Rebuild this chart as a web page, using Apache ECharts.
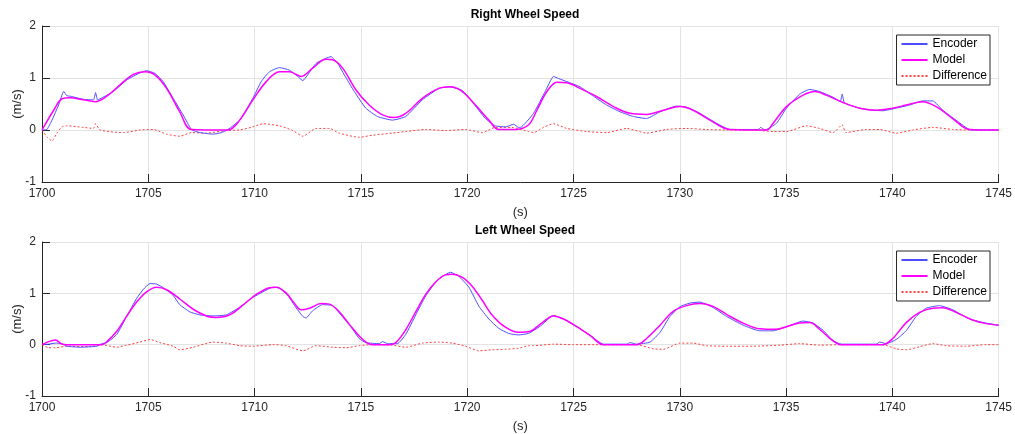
<!DOCTYPE html>
<html>
<head>
<meta charset="utf-8">
<script src="https://cdn.jsdelivr.net/npm/echarts@6/dist/echarts.min.js"></script>
<style>
  html, body { margin: 0; padding: 0; background: #fff; }
  #chart { width: 1015px; height: 434px; }
</style>
</head>
<body>
<div id="chart"></div>
<script>
// axis ticks
const xTicks = [1700, 1705, 1710, 1715, 1720, 1725, 1730, 1735, 1740, 1745]
const yTicks = [-1, 0, 1, 2]

// Right wheel: [time (s), speed (m/s)]
const rightEncoder = [
  [1700.00, 0], [1700.23, 0.01], [1700.47, 0.19], [1700.78, 0.48], [1701.02, 0.74], [1701.17, 0.66],
  [1701.33, 0.65], [1701.95, 0.59], [1702.42, 0.58], [1702.52, 0.72], [1702.61, 0.58], [1702.73, 0.60],
  [1703.36, 0.74], [1703.98, 0.96], [1704.61, 1.10], [1704.92, 1.14], [1705.31, 1.09], [1705.70, 0.93],
  [1706.17, 0.61], [1706.64, 0.29], [1707.03, 0.01], [1707.42, -0.05], [1708.05, -0.08], [1708.44, -0.05],
  [1708.75, 0.01], [1709.30, 0.19], [1709.92, 0.61], [1710.31, 0.93], [1710.70, 1.12], [1711.17, 1.20],
  [1711.64, 1.15], [1712.03, 1.03], [1712.27, 0.95], [1712.50, 1.06], [1712.89, 1.28], [1713.36, 1.38],
  [1713.59, 1.41], [1713.91, 1.28], [1714.22, 1.06], [1714.69, 0.74], [1715.23, 0.42], [1715.78, 0.26],
  [1716.48, 0.19], [1717.11, 0.26], [1717.89, 0.58], [1718.67, 0.80], [1719.14, 0.83], [1719.77, 0.76],
  [1720.23, 0.545], [1720.86, 0.22], [1721.33, 0.08], [1721.80, 0.06], [1722.19, 0.11], [1722.42, 0.05],
  [1722.50, 0.05], [1723.12, 0.32], [1723.67, 0.74], [1724.06, 1.03], [1724.30, 0.99], [1724.69, 0.93],
  [1725.31, 0.83], [1725.94, 0.65], [1726.56, 0.48], [1727.19, 0.35], [1727.82, 0.26], [1728.44, 0.22],
  [1729.07, 0.35], [1729.85, 0.46], [1730.32, 0.44], [1730.95, 0.32], [1731.73, 0.13], [1732.36, 0.01],
  [1733.69, 0.01], [1733.80, 0.05], [1734.00, 0.00], [1734.55, 0.13], [1735.02, 0.42], [1735.64, 0.69],
  [1736.11, 0.78], [1736.58, 0.74], [1737.21, 0.63], [1737.55, 0.55], [1737.64, 0.69], [1737.75, 0.52],
  [1738.46, 0.42], [1739.08, 0.38], [1739.55, 0.37], [1740.18, 0.42], [1740.81, 0.48], [1741.43, 0.56],
  [1741.90, 0.56], [1742.37, 0.38], [1742.99, 0.19], [1743.70, 0.00], [1745.00, 0]
]
const rightModel = [
  [1700.00, 0], [1700.55, 0.38], [1700.94, 0.60], [1701.33, 0.62], [1701.95, 0.58], [1702.50, 0.545],
  [1703.05, 0.65], [1703.67, 0.87], [1704.30, 1.07], [1704.84, 1.12], [1705.31, 1.06], [1705.86, 0.80],
  [1706.48, 0.35], [1707.03, 0.01], [1708.75, 0], [1709.30, 0.19], [1709.92, 0.58], [1710.55, 0.93],
  [1711.17, 1.12], [1711.64, 1.12], [1712.19, 1.03], [1712.73, 1.19], [1713.36, 1.36], [1713.67, 1.35],
  [1714.14, 1.19], [1714.77, 0.77], [1715.39, 0.48], [1716.02, 0.29], [1716.56, 0.24], [1717.11, 0.32],
  [1717.89, 0.61], [1718.67, 0.80], [1719.22, 0.83], [1719.77, 0.74], [1720.39, 0.48], [1721.02, 0.19],
  [1721.48, 0.01], [1722.27, 0.01], [1722.89, 0.10], [1723.28, 0.38], [1723.75, 0.74], [1724.22, 0.92],
  [1724.69, 0.91], [1725.31, 0.80], [1726.10, 0.64], [1726.88, 0.45], [1727.66, 0.32], [1728.44, 0.30],
  [1729.23, 0.38], [1730.01, 0.45], [1730.63, 0.38], [1731.42, 0.19], [1732.36, 0.01], [1734.08, 0],
  [1734.39, 0.13], [1735.02, 0.45], [1735.80, 0.67], [1736.35, 0.74], [1736.89, 0.67], [1737.68, 0.53],
  [1738.46, 0.42], [1739.24, 0.38], [1740.02, 0.42], [1740.65, 0.48], [1741.43, 0.545], [1742.06, 0.45],
  [1742.84, 0.22], [1743.62, 0.01], [1745.00, 0]
]
const rightDiff = [
  [1700.00, 0], [1700.23, -0.13], [1700.47, -0.21], [1700.70, -0.06], [1700.94, 0.06], [1701.17, 0.08],
  [1701.95, 0.05], [1702.42, 0.03], [1702.52, 0.12], [1702.73, 0.00], [1703.83, -0.05], [1704.61, 0.00],
  [1705.23, 0.01], [1705.86, -0.08], [1706.48, -0.12], [1707.03, -0.05], [1707.73, -0.06], [1708.67, -0.01],
  [1709.30, 0.00], [1709.92, 0.06], [1710.39, 0.12], [1711.17, 0.08], [1711.80, -0.01], [1712.27, -0.12],
  [1712.89, 0.03], [1713.52, 0.03], [1713.98, -0.06], [1714.92, -0.14], [1715.55, -0.10], [1716.48, -0.06],
  [1717.11, -0.03], [1718.05, 0.01], [1718.98, -0.01], [1719.92, 0.01], [1720.70, -0.05], [1721.33, 0.05],
  [1722.11, 0.05], [1722.89, -0.03], [1723.12, -0.05], [1723.59, 0.05], [1724.06, 0.12], [1724.69, 0.03],
  [1725.63, -0.03], [1726.56, -0.05], [1727.50, 0.03], [1728.44, -0.06], [1729.38, 0.01], [1730.32, 0.03],
  [1731.26, 0.01], [1732.20, 0.00], [1733.45, 0.00], [1734.39, -0.03], [1735.02, -0.03], [1735.96, 0.08],
  [1736.58, 0.03], [1737.21, -0.05], [1737.64, 0.10], [1737.82, -0.05], [1738.77, 0.01], [1739.40, 0.01],
  [1740.18, -0.06], [1740.96, 0.00], [1741.90, 0.05], [1742.84, 0.01], [1743.62, 0.00], [1745.00, 0]
]

// Left wheel: [time (s), speed (m/s)]
const leftEncoder = [
  [1700.00, 0], [1700.31, 0.01], [1700.63, 0.03], [1700.94, 0.02], [1701.17, -0.03], [1701.80, -0.05],
  [1702.27, -0.04], [1702.58, -0.03], [1702.81, 0.02], [1703.05, 0.04], [1703.52, 0.20], [1703.98, 0.55],
  [1704.45, 0.90], [1704.77, 1.08], [1705.08, 1.19], [1705.39, 1.18], [1705.78, 1.09], [1706.17, 0.96],
  [1706.48, 0.78], [1706.95, 0.64], [1707.42, 0.58], [1708.05, 0.56], [1708.67, 0.58], [1709.30, 0.73],
  [1709.92, 0.92], [1710.39, 1.03], [1710.86, 1.12], [1711.17, 1.10], [1711.56, 0.96], [1711.95, 0.72],
  [1712.27, 0.55], [1712.42, 0.52], [1712.73, 0.66], [1713.20, 0.78], [1713.67, 0.76], [1714.06, 0.58],
  [1714.53, 0.35], [1714.92, 0.12], [1715.23, 0.04], [1715.86, 0.02], [1716.02, 0.06], [1716.25, 0.02],
  [1716.72, 0.02], [1717.11, 0.20], [1717.58, 0.58], [1718.05, 0.95], [1718.52, 1.22], [1718.83, 1.33],
  [1719.22, 1.41], [1719.61, 1.33], [1720.08, 1.12], [1720.55, 0.75], [1721.02, 0.50], [1721.48, 0.32],
  [1721.95, 0.22], [1722.42, 0.19], [1722.89, 0.22], [1723.44, 0.36], [1724.06, 0.57], [1724.53, 0.50],
  [1725.16, 0.35], [1725.78, 0.18], [1726.41, 0.01], [1727.50, 0.01], [1727.66, 0.04], [1727.97, 0.01],
  [1728.60, 0.05], [1729.07, 0.24], [1729.54, 0.55], [1730.01, 0.74], [1730.48, 0.81], [1730.95, 0.83],
  [1731.58, 0.72], [1732.20, 0.55], [1732.98, 0.38], [1733.76, 0.27], [1734.39, 0.27], [1735.02, 0.35],
  [1735.80, 0.46], [1736.27, 0.42], [1736.74, 0.28], [1737.21, 0.08], [1737.60, 0.01], [1739.24, 0.01],
  [1739.40, 0.05], [1739.71, 0.02], [1740.18, 0.10], [1740.65, 0.27], [1741.12, 0.55], [1741.59, 0.71],
  [1742.21, 0.76], [1742.84, 0.68], [1743.62, 0.50], [1744.41, 0.42], [1745.00, 0.38]
]
const leftModel = [
  [1700.00, 0], [1700.31, 0.06], [1700.63, 0.09], [1700.94, 0.01], [1701.17, 0], [1702.81, 0],
  [1703.05, 0.06], [1703.52, 0.26], [1703.98, 0.55], [1704.45, 0.83], [1704.92, 1.03], [1705.39, 1.12],
  [1705.86, 1.07], [1706.48, 0.89], [1707.11, 0.69], [1707.73, 0.56], [1708.20, 0.53], [1708.83, 0.58],
  [1709.45, 0.77], [1710.08, 0.98], [1710.70, 1.11], [1711.02, 1.12], [1711.48, 1.01], [1711.88, 0.80],
  [1712.19, 0.68], [1712.58, 0.71], [1713.13, 0.80], [1713.52, 0.79], [1713.98, 0.64], [1714.45, 0.40],
  [1714.92, 0.17], [1715.31, 0.03], [1715.55, 0], [1716.33, 0], [1716.64, 0.04], [1717.11, 0.29],
  [1717.58, 0.64], [1718.05, 0.98], [1718.52, 1.22], [1718.98, 1.36], [1719.30, 1.37], [1719.77, 1.31],
  [1720.23, 1.14], [1720.70, 0.87], [1721.17, 0.58], [1721.80, 0.34], [1722.42, 0.24], [1722.97, 0.26],
  [1723.44, 0.40], [1724.06, 0.56], [1724.53, 0.50], [1725.16, 0.35], [1725.78, 0.18], [1726.41, 0],
  [1727.97, 0], [1728.44, 0.12], [1729.07, 0.38], [1729.69, 0.65], [1730.32, 0.76], [1730.95, 0.80],
  [1731.58, 0.74], [1732.20, 0.59], [1732.98, 0.42], [1733.76, 0.31], [1734.55, 0.30], [1735.02, 0.35],
  [1735.64, 0.42], [1736.11, 0.43], [1736.58, 0.30], [1737.13, 0.10], [1737.60, 0], [1739.55, 0],
  [1740.02, 0.12], [1740.65, 0.43], [1741.28, 0.63], [1741.90, 0.71], [1742.37, 0.72], [1742.99, 0.63],
  [1743.78, 0.48], [1744.41, 0.41], [1745.00, 0.38]
]
const leftDiff = [
  [1700.00, 0], [1700.31, -0.06], [1700.63, -0.06], [1701.17, -0.03], [1702.27, -0.04], [1702.81, 0.00],
  [1703.52, -0.05], [1703.98, -0.01], [1704.61, 0.05], [1705.08, 0.10], [1705.55, 0.04], [1706.17, -0.03],
  [1706.48, -0.10], [1707.11, -0.05], [1708.05, 0.05], [1708.67, 0.03], [1709.30, -0.02], [1709.92, -0.03],
  [1710.86, 0.00], [1711.48, -0.02], [1712.27, -0.12], [1712.89, -0.02], [1713.67, -0.05], [1714.30, -0.06],
  [1714.92, -0.02], [1715.55, 0.00], [1716.48, -0.01], [1717.11, -0.05], [1717.89, 0.03], [1718.67, 0.05],
  [1719.30, 0.03], [1719.92, -0.03], [1720.55, -0.12], [1721.17, -0.10], [1721.80, -0.09], [1722.42, -0.07],
  [1722.89, -0.02], [1723.12, -0.02], [1724.06, 0.01], [1725.00, 0.00], [1726.41, 0.00], [1727.97, 0.00],
  [1728.75, -0.08], [1729.23, -0.09], [1730.01, 0.03], [1730.63, 0.03], [1731.26, -0.02], [1732.20, -0.03],
  [1733.45, -0.03], [1734.71, -0.01], [1735.64, 0.02], [1736.58, -0.01], [1737.60, 0.00], [1739.55, 0.00],
  [1740.18, -0.08], [1740.65, -0.10], [1741.28, -0.04], [1741.90, 0.02], [1742.53, -0.02], [1743.46, -0.03],
  [1744.41, 0.00], [1745.00, 0.00]
]

const seriesNames = ['Encoder', 'Model', 'Difference']
const titles = ['Right Wheel Speed', 'Left Wheel Speed']

const FONT = 'Liberation Sans, Arial, Helvetica, sans-serif'
const INK = '#262626'

const gridTops = [26, 242]

function xAxisFor(i) {
  return {
    type: 'value', gridIndex: i,
    min: xTicks[0], max: xTicks[xTicks.length - 1], interval: 5,
    name: '(s)', nameLocation: 'middle', nameGap: 24,
    nameTextStyle: { fontFamily: FONT, fontSize: 13, color: INK },
    axisLine: { onZero: false, lineStyle: { color: INK, width: 1 } },
    axisTick: { inside: true, length: 8, lineStyle: { color: INK } },
    axisLabel: { margin: 6, fontFamily: FONT, fontSize: 12, color: INK, formatter: v => String(v) },
    splitLine: { show: true, lineStyle: { color: '#e3e3e3', width: 1 } }
  }
}
function yAxisFor(i) {
  return {
    type: 'value', gridIndex: i,
    min: yTicks[0], max: yTicks[yTicks.length - 1], interval: 1,
    name: '(m/s)', nameLocation: 'middle', nameGap: 18, nameRotate: 90, nameMoveOverlap: false,
    nameTextStyle: { fontFamily: FONT, fontSize: 13, color: INK },
    axisLine: { show: true, onZero: false, lineStyle: { color: INK, width: 1 } },
    axisTick: { show: true, inside: true, length: 8, lineStyle: { color: INK } },
    axisLabel: { margin: 6, fontFamily: FONT, fontSize: 12, color: INK },
    splitLine: { show: true, lineStyle: { color: '#e3e3e3', width: 1 } }
  }
}

function lineSeries(name, data, i) {
  const styles = {
    Encoder: { color: '#4d4dff', width: 1, type: 'solid', smooth: 0.15 },
    Model: { color: '#ff00ff', width: 1.5, type: 'solid', smooth: 0.35 },
    Difference: { color: '#ff4040', width: 1, type: [2, 2], smooth: 0.2 }
  }
  const s = styles[name]
  return {
    name, type: 'line', xAxisIndex: i, yAxisIndex: i,
    data, showSymbol: false, symbol: 'none', smooth: s.smooth,
    lineStyle: { color: s.color, width: s.width, type: s.type },
    itemStyle: { color: s.color },
    z: name === 'Difference' ? 1 : (name === 'Model' ? 3 : 2)
  }
}

function legendFor(top) {
  return {
    data: seriesNames,
    orient: 'vertical', right: 25, top: top,
    itemWidth: 26, itemHeight: 12, itemGap: 4,
    padding: [3, 3, 3, 4],
    backgroundColor: '#fff', borderColor: INK, borderWidth: 1, borderRadius: 0,
    itemStyle: { opacity: 0 },
    textStyle: { fontFamily: FONT, fontSize: 12, color: '#000' },
    selectedMode: false
  }
}

const option = {
  animation: false,
  backgroundColor: '#fff',
  title: titles.map((t, i) => ({
    text: t, left: 520, top: gridTops[i] - 22, textAlign: 'center',
    textStyle: { fontFamily: FONT, fontSize: 12, fontWeight: 'bold', color: '#000' }
  })),
  grid: gridTops.map(t => ({ left: 42, right: 16, top: t, height: 156 })),
  xAxis: [xAxisFor(0), xAxisFor(1)],
  yAxis: [yAxisFor(0), yAxisFor(1)],
  legend: [legendFor(35), legendFor(251)],
  series: [
    lineSeries('Difference', rightDiff, 0),
    lineSeries('Encoder', rightEncoder, 0),
    lineSeries('Model', rightModel, 0),
    lineSeries('Difference', leftDiff, 1),
    lineSeries('Encoder', leftEncoder, 1),
    lineSeries('Model', leftModel, 1)
  ]
}

const myChart = echarts.init(document.getElementById('chart'))
myChart.setOption(option)
</script>
</body>
</html>
